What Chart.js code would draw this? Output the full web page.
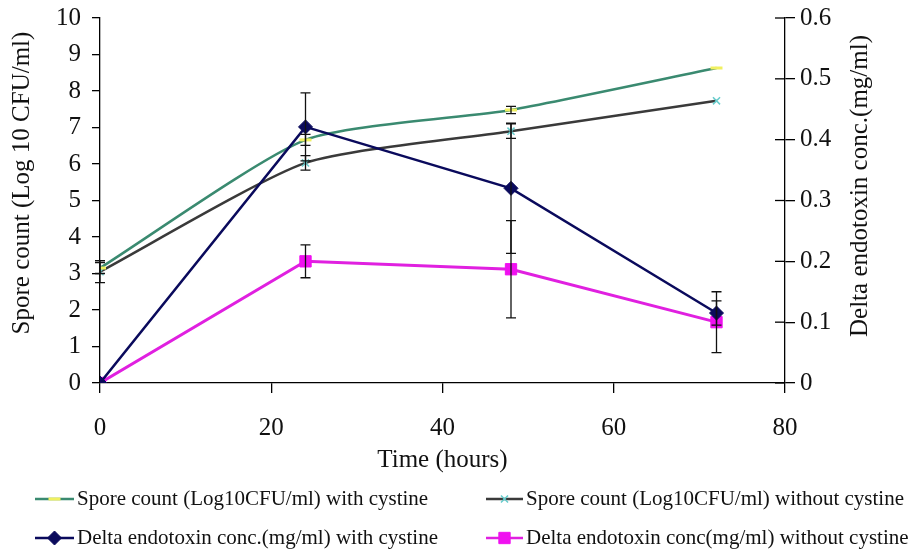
<!DOCTYPE html>
<html>
<head>
<meta charset="utf-8">
<script src="https://cdn.jsdelivr.net/npm/chart.js@4.4.1/dist/chart.umd.min.js"></script>
<style>
  body { margin: 0; background: #fff; }
</style>
</head>
<body>
<canvas id="myCanvas" width="912" height="560"></canvas>
<script>
let canvas = document.getElementById("myCanvas");

// datos
const horas = [0, 24, 48, 72];
const esporasCon = [3.15, 6.66, 7.48, 8.63];
const esporasSin = [3.05, 6.03, 6.9, 7.73];
const toxinaCon = [0, 0.421, 0.32, 0.115];
const toxinaSin = [0, 0.2, 0.187, 0.1];

// barras de error (+/-)
const errEsporasCon = [0.15, 0.15, 0.1, 0];
const errEsporasSin = [0.3, 0.2, 0.2, 0];
const errToxinaCon = [0, 0.056, 0.107, 0.02];
const errToxinaSin = [0, 0.027, 0.08, 0.05];

const etiquetas = [
  "Spore count (Log10CFU/ml) with cystine",
  "Spore count (Log10CFU/ml) without cystine",
  "Delta endotoxin conc.(mg/ml) with cystine",
  "Delta endotoxin conc(mg/ml) without cystine",
];
const ticksX = [0, 20, 40, 60, 80];
const tituloX = "Time (hours)";
const tituloY = "Spore count (Log 10 CFU/ml)";
const tituloY1 = "Delta endotoxin conc.(mg/ml)";

const fuente = "'Liberation Serif', 'Times New Roman', serif";

const puntos = (ys) => horas.map((h, i) => ({ x: h, y: ys[i] }));

const sinRelleno = (s) => { s.paddingTop = 0; s.paddingBottom = 0; };

// barras de error dibujadas con las escalas
const barrasError = {
  id: "barrasError",
  afterDatasetsDraw(chart) {
    const ctx = chart.ctx;
    ctx.save();
    ctx.strokeStyle = "#111";
    ctx.lineWidth = 1.3;
    chart.data.datasets.forEach((ds, i) => {
      const meta = chart.getDatasetMeta(i);
      const yScale = chart.scales[ds.yAxisID];
      ds.errores.forEach((e, j) => {
        if (!e) return;
        const v = ds.data[j].y;
        const x = meta.data[j].x;
        const y1 = yScale.getPixelForValue(v + e);
        const y2 = yScale.getPixelForValue(v - e);
        ctx.beginPath();
        ctx.moveTo(x, y1); ctx.lineTo(x, y2);
        ctx.moveTo(x - 5, y1); ctx.lineTo(x + 5, y1);
        ctx.moveTo(x - 5, y2); ctx.lineTo(x + 5, y2);
        ctx.stroke();
      });
    });
    ctx.restore();
  },
};

// titulos verticales, marcas cruzadas y leyenda
const extras = {
  id: "extras",
  afterDraw(chart) {
    const ctx = chart.ctx;
    const y1 = chart.scales.y1;
    ctx.save();
    ctx.strokeStyle = "#000";
    ctx.lineWidth = 1.3;
    y1.ticks.forEach((t) => {
      const p = y1.getPixelForValue(t.value);
      ctx.beginPath();
      ctx.moveTo(y1.left - 10, p);
      ctx.lineTo(y1.left, p);
      ctx.stroke();
    });
    ctx.restore();

    const titulo = (txt, x, y) => {
      ctx.save();
      ctx.fillStyle = "#111";
      ctx.font = "25px " + fuente;
      ctx.textAlign = "center";
      ctx.textBaseline = "middle";
      ctx.translate(x, y);
      ctx.rotate(-Math.PI / 2);
      ctx.fillText(txt, 0, 0);
      ctx.restore();
    };
    titulo(tituloY, 22, 183);
    titulo(tituloY1, 860, 186);

    // leyenda
    const pos = [
      { x1: 35, x2: 74, tx: 77, y: 499 },
      { x1: 486, x2: 523, tx: 526, y: 499 },
      { x1: 35, x2: 74, tx: 77, y: 538 },
      { x1: 486, x2: 523, tx: 526, y: 538 },
    ];
    chart.data.datasets.forEach((ds, i) => {
      const p = pos[i];
      ctx.save();
      ctx.strokeStyle = ds.borderColor;
      ctx.lineWidth = 2.5;
      ctx.beginPath();
      ctx.moveTo(p.x1, p.y); ctx.lineTo(p.x2, p.y);
      ctx.stroke();
      ctx.fillStyle = ds.pointBackgroundColor;
      ctx.strokeStyle = ds.pointBorderColor;
      ctx.lineWidth = ds.pointBorderWidth || 1;
      Chart.helpers.drawPoint(ctx, {
        pointStyle: ds.pointStyle,
        radius: ds.pointRadius,
        borderWidth: ds.pointBorderWidth || 1,
        rotation: 0,
      }, (p.x1 + p.x2) / 2, p.y);
      ctx.fillStyle = "#111";
      ctx.font = "21px " + fuente;
      ctx.textAlign = "left";
      ctx.textBaseline = "middle";
      ctx.fillText(etiquetas[i], p.tx, p.y);
      ctx.restore();
    });
  },
};

const generarGrafica = () => {
  window.chart = new Chart(canvas, {
    type: "line",
    data: {
      datasets: [
        {
          label: etiquetas[0],
          data: puntos(esporasCon),
          errores: errEsporasCon,
          yAxisID: "y",
          borderColor: "#3a8a70",
          borderWidth: 2.5,
          tension: 0.2,
          pointStyle: "line",
          pointRadius: 6,
          pointBorderWidth: 3,
          pointBackgroundColor: "#f0f060",
          pointBorderColor: "#f0f060",
          order: 3,
        },
        {
          label: etiquetas[1],
          data: puntos(esporasSin),
          errores: errEsporasSin,
          yAxisID: "y",
          borderColor: "#3a3a3a",
          borderWidth: 2.5,
          tension: 0.2,
          pointStyle: "crossRot",
          pointRadius: 5,
          pointBorderWidth: 1.5,
          pointBackgroundColor: "#6cc",
          pointBorderColor: "#6cc",
          order: 4,
        },
        {
          label: etiquetas[2],
          data: puntos(toxinaCon),
          errores: errToxinaCon,
          yAxisID: "y1",
          borderColor: "#0a0a5c",
          borderWidth: 2.5,
          tension: 0,
          pointStyle: "rectRot",
          pointRadius: 7,
          pointBorderWidth: 1,
          pointBackgroundColor: "#0a0a5c",
          pointBorderColor: "#0a0a5c",
          order: 1,
        },
        {
          label: etiquetas[3],
          data: puntos(toxinaSin),
          errores: errToxinaSin,
          yAxisID: "y1",
          borderColor: "#e020e0",
          borderWidth: 3,
          tension: 0,
          pointStyle: "rect",
          pointRadius: 8,
          pointBorderWidth: 1,
          pointBackgroundColor: "#f010f0",
          pointBorderColor: "#f010f0",
          order: 2,
        },
      ],
    },
    options: {
      responsive: false,
      animation: false,
      layout: { padding: { top: 18, bottom: 80, left: 0, right: 0 } },
      plugins: { legend: { display: false }, tooltip: { enabled: false } },
      scales: {
        x: {
          type: "linear",
          min: 0,
          max: 80,
          afterBuildTicks: (s) => { s.ticks = ticksX.map((v) => ({ value: v })); },
          afterFit: (s) => { s.height = 97; s.paddingLeft = 0; s.paddingRight = 0; },
          grid: { drawOnChartArea: false, tickLength: 10, color: "#000", lineWidth: 1.3 },
          border: { color: "#000", width: 1.3 },
          ticks: { color: "#111", font: { family: fuente, size: 25 }, padding: 20, maxRotation: 0 },
          title: { display: true, text: tituloX, color: "#111", font: { family: fuente, size: 25 }, padding: { top: 0, bottom: 5 } },
        },
        y: {
          position: "left",
          min: 0,
          max: 10,
          afterFit: (s) => { s.width = 100; sinRelleno(s); },
          grid: { drawOnChartArea: false, tickLength: 8, color: "#000", lineWidth: 1.3 },
          border: { color: "#000", width: 1.3 },
          ticks: { stepSize: 1, color: "#111", font: { family: fuente, size: 25 }, padding: 11 },
        },
        y1: {
          position: "right",
          min: 0,
          max: 0.6,
          afterFit: (s) => { s.width = 127; sinRelleno(s); },
          grid: { drawOnChartArea: false, tickLength: 10, color: "#000", lineWidth: 1.3 },
          border: { color: "#000", width: 1.3 },
          ticks: { stepSize: 0.1, color: "#111", font: { family: fuente, size: 25 }, padding: 5,
            callback: (v) => (Math.round(v * 10) / 10).toString() },
        },
      },
    },
    plugins: [barrasError, extras],
  });
};

generarGrafica();
</script>
</body>
</html>
